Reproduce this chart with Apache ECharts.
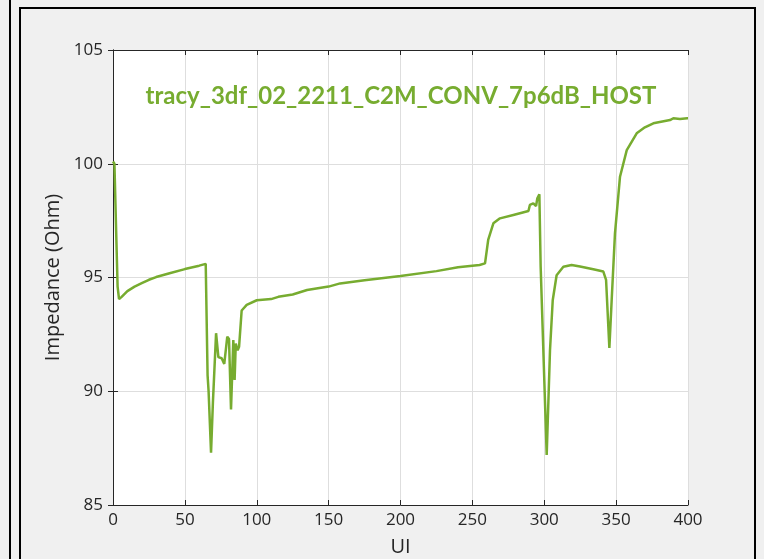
<!DOCTYPE html>
<html>
<head>
<meta charset="utf-8">
<script src="https://cdn.jsdelivr.net/npm/echarts@6/dist/echarts.min.js"></script>
<style>
  html, body { margin: 0; padding: 0; background: #f0f0f0; }
  #chart { width: 764px; height: 559px; }
</style>
</head>
<body>
<div id="chart"></div>
<script>
// UI positions and impedance (Ohm)
const uiValues = [
  0, 1, 2, 3.2, 4.2, 6, 10, 15, 20, 25, 30, 40, 50, 60, 64.5,
  65.8, 66.5, 68.2, 69.5, 71.7, 73.3, 75.6, 77.4, 79.5, 80.7, 82.1, 83.7, 84.6, 85.4, 86.7, 87.7,
  89.5, 93, 100, 110, 115, 125, 135, 150, 158, 175, 200, 225, 240, 255, 258.8,
  261, 264.6, 269.2, 278.5, 289, 290, 292.4, 294.3, 295.2, 296.1, 296.6, 297.5,
  301.7, 304, 305.9, 308.6, 313.3, 319, 324.9, 334.1, 341.1, 343, 345.3,
  346.9, 349.2, 352.7, 357.4, 364.3, 370, 375.9, 387.5, 389.8, 394.4, 399.5, 400
];
const impedance = [
  100.1, 100.0, 97.5, 94.6, 94.05, 94.15, 94.4, 94.6, 94.75, 94.9, 95.02, 95.2, 95.37, 95.52, 95.6,
  90.7, 90.0, 87.3, 89.5, 92.55, 91.5, 91.45, 91.2, 92.4, 92.3, 89.2, 92.25, 90.5, 92.1, 91.8, 91.95,
  93.55, 93.8, 94.0, 94.05, 94.15, 94.25, 94.45, 94.6, 94.74, 94.88, 95.07, 95.28, 95.45, 95.55, 95.62,
  96.65, 97.38, 97.6, 97.75, 97.92, 98.19, 98.26, 98.14, 98.48, 98.4, 98.66, 95.48,
  87.2, 91.8, 94.0, 95.1, 95.47, 95.55, 95.48, 95.36, 95.26, 94.9, 91.9,
  94.0, 96.94, 99.43, 100.6, 101.34, 101.6, 101.78, 101.92, 102.0, 101.97, 102.0, 102.0
];
const plotTitle = "tracy_3df_02_2211_C2M_CONV_7p6dB_HOST";

const chart = echarts.init(document.getElementById("chart"));
const axisColor = "#262626";
const gridColor = "#dedede";
const labelFont = { color: axisColor, fontSize: 17, fontFamily: "Open Sans" };
const nameFont = { color: axisColor, fontSize: 20, fontFamily: "Open Sans" };

const option = {
  backgroundColor: "#f0f0f0",
  animation: false,
  grid: {
    left: 113, right: 76, top: 50, bottom: 54, outerBoundsMode: "none",
    show: true, backgroundColor: "#ffffff", borderWidth: 0
  },
  graphic: [
    { type: "line", shape: { x1: 10, y1: 0, x2: 10, y2: 559 }, style: { stroke: "#000", lineWidth: 2 } },
    { type: "rect", shape: { x: 20, y: 8, width: 735, height: 600 }, style: { fill: "none", stroke: "#000", lineWidth: 2 } },
    {
      type: "text", x: 401, y: 96, z: 10,
      style: {
        text: plotTitle, fill: "#77ac30", fontSize: 24, fontWeight: "bold",
        fontFamily: "Lato", textAlign: "center", textVerticalAlign: "middle"
      }
    }
  ],
  xAxis: [
    {
      type: "value", min: 0, max: 400, interval: 50, position: "bottom",
      name: "UI", nameLocation: "middle", nameGap: 32, nameTextStyle: nameFont,
      axisLine: { show: true, lineStyle: { color: axisColor, width: 1 } },
      axisTick: { show: true, inside: true, length: 5, lineStyle: { color: axisColor } },
      axisLabel: { ...labelFont, margin: 7 },
      splitLine: { show: true, lineStyle: { color: gridColor, width: 1 } }
    },
    {
      type: "value", min: 0, max: 400, interval: 50, position: "top",
      axisLine: { show: true, lineStyle: { color: axisColor, width: 1 } },
      axisTick: { show: true, inside: true, length: 5, lineStyle: { color: axisColor } },
      axisLabel: { show: false },
      splitLine: { show: false }
    }
  ],
  yAxis: [
    {
      type: "value", min: 85, max: 105, interval: 5, position: "left",
      name: "Impedance (Ohm)", nameLocation: "middle", nameGap: 48, nameTextStyle: nameFont,
      axisLine: { show: true, lineStyle: { color: axisColor, width: 1 } },
      axisTick: { show: true, inside: true, length: 5, lineStyle: { color: axisColor } },
      axisLabel: { ...labelFont, margin: 10 },
      splitLine: { show: true, lineStyle: { color: gridColor, width: 1 } }
    },
    {
      type: "value", min: 85, max: 105, interval: 5, position: "right",
      axisLine: { show: true, lineStyle: { color: axisColor, width: 1 } },
      axisTick: { show: true, inside: true, length: 5, lineStyle: { color: axisColor } },
      axisLabel: { show: false },
      splitLine: { show: false }
    }
  ],
  series: [
    {
      type: "line",
      data: uiValues.map((u, i) => [u, impedance[i]]),
      showSymbol: false,
      lineStyle: { color: "#77ac30", width: 2.5 },
      z: 5
    }
  ]
};

chart.setOption(option);
</script>
</body>
</html>
